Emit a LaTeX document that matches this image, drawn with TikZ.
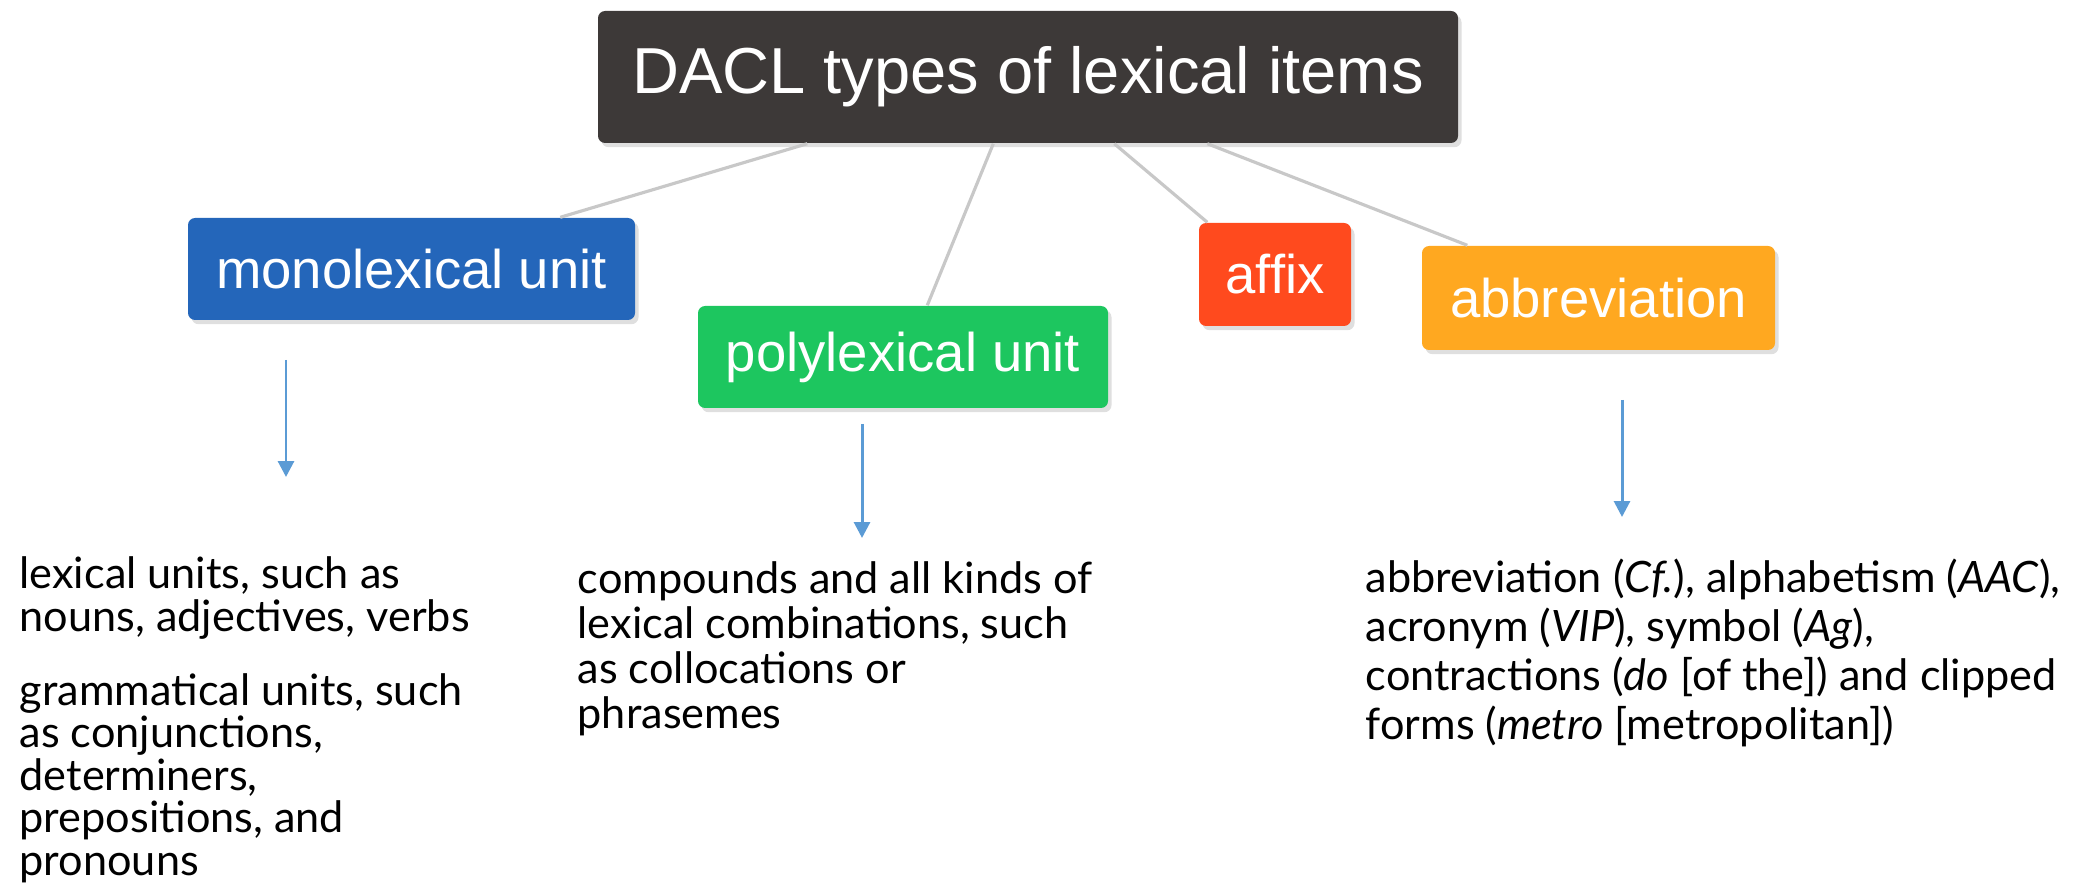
\documentclass[tikz,border=0pt]{standalone}
\usepackage{fontspec}
\setmainfont{Lato}
\newfontfamily\boxfont{Liberation Sans}
\definecolor{titlegray}{RGB}{61,57,56}
\definecolor{monoblue}{RGB}{36,102,186}
\definecolor{polygreen}{RGB}{29,198,95}
\definecolor{affixred}{RGB}{255,74,30}
\definecolor{abbrorange}{RGB}{255,168,32}
\definecolor{arrowblue}{RGB}{91,155,213}
\definecolor{linkgray}{RGB}{200,200,200}
\usetikzlibrary{arrows.meta,calc,shadows}

\begin{document}
\begin{tikzpicture}[
    typebox/.style={rounded corners=2pt, inner sep=0pt, text=white,
        font=\boxfont\fontsize{15.5}{18}\selectfont,
        drop shadow={opacity=0.25, shadow xshift=1pt, shadow yshift=-1.2pt}},
    link/.style={linkgray, line width=0.9pt},
    down/.style={arrowblue, line width=0.85pt, -{Triangle[width=4.5pt,length=4.5pt]}},
    desc/.style={anchor=north west, inner sep=0pt, align=left}
]
    \useasboundingbox (0,0) rectangle (20.93,8.83);

    % Root
    \node[typebox, fill=titlegray, minimum width=8.6cm, minimum height=1.32cm,
        font=\boxfont\fontsize{18.5}{22}\selectfont] (root) at (10.28,8.06) {DACL types of lexical items};

    % Types
    \node[typebox, fill=monoblue, minimum width=4.47cm, minimum height=1.02cm] (mono) at (4.115,6.14) {monolexical unit};
    \node[typebox, fill=polygreen, minimum width=4.10cm, minimum height=1.02cm] (poly) at (9.03,5.26) {polylexical unit};
    \node[typebox, fill=affixred, minimum width=1.52cm, minimum height=1.03cm] (affix) at (12.75,6.085) {affix};
    \node[typebox, fill=abbrorange, minimum width=3.53cm, minimum height=1.04cm] (abbr) at (15.985,5.85) {abbreviation};

    % Links from the root
    \draw[link] ($(root.south west)+(2.10,0)$) -- ($(mono.north west)+(3.73,0)$);
    \draw[link] ($(root.south west)+(3.96,0)$) -- ($(poly.north west)+(2.30,0)$);
    \draw[link] ($(root.south west)+(5.17,0)$) -- ($(affix.north west)+(0.09,0)$);
    \draw[link] ($(root.south west)+(6.10,0)$) -- ($(abbr.north west)+(0.46,0)$);

    % Arrows
    \coordinate (monoA) at (2.86,5.23);
    \coordinate (monoB) at (2.86,4.06);
    \coordinate (polyA) at (8.62,4.59);
    \coordinate (polyB) at (8.62,3.45);
    \coordinate (abbrA) at (16.22,4.83);
    \coordinate (abbrB) at (16.22,3.66);
    \draw[down] (monoA) -- (monoB);
    \draw[down] (polyA) -- (polyB);
    \draw[down] (abbrA) -- (abbrB);

    % Descriptions
    \node[desc, font=\fontsize{12.3}{12.1}\selectfont] (monotext) at (0.19,3.27)
        {lexical units, such as\\ nouns, adjectives, verbs\\[9pt]
         grammatical units, such\\ as conjunctions,\\ determiners,\\ prepositions, and\\ pronouns};
    \node[desc, font=\fontsize{12.3}{12.8}\selectfont] (polytext) at (5.77,3.22)
        {compounds and all kinds of\\ lexical combinations, such\\ as collocations or\\ phrasemes};
    \node[desc, font=\fontsize{12.3}{14}\selectfont] (abbrtext) at (13.65,3.25)
        {abbreviation (\textit{Cf.}), alphabetism (\textit{AAC}),\\ acronym (\textit{VIP}), symbol (\textit{Ag}),\\
         contractions (\textit{do} [of the]) and clipped\\ forms (\textit{metro} [metropolitan])};
\end{tikzpicture}
\end{document}
